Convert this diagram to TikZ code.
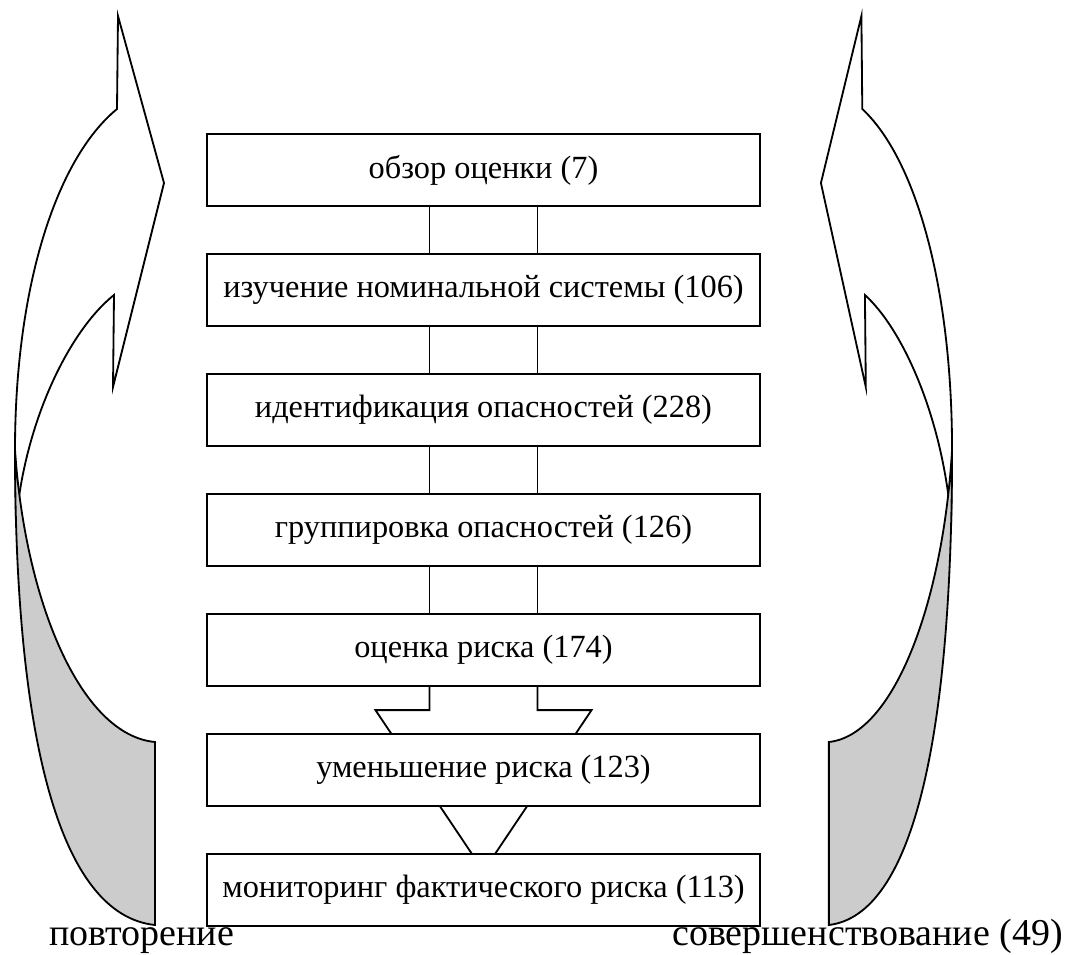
\documentclass[tikz,border=0pt]{standalone}
\usepackage{fontspec}
\setmainfont{Liberation Serif}
\usetikzlibrary{positioning,calc,backgrounds}

\begin{document}
\begin{tikzpicture}
    [
        x=0.025cm, y=-0.025cm,
        stepbox/.style={rectangle, draw=black, fill=white, line width=1.3pt, outer sep=0pt, minimum width=13.825cm, minimum height=1.8cm, font=\fontsize{23}{27}\selectfont},
        link/.style={draw=black, line width=1.3pt},
        bandfront/.style={draw=black, line width=1.3pt, fill=white},
        bandback/.style={draw=black, line width=1.3pt, fill=black!20},
        looplabel/.style={font=\fontsize{27}{32}\selectfont, inner sep=0pt},
    ]

    \useasboundingbox (0,0) rectangle (1067,955);

    %% STEPS
    \node[stepbox] (review) at (483.5,170) {обзор оценки (7)};
    \node[stepbox] (nominal) [below=1.2cm of review] {изучение номинальной системы (106)};
    \node[stepbox] (hazardid) [below=1.2cm of nominal] {идентификация опасностей (228)};
    \node[stepbox] (grouping) [below=1.2cm of hazardid] {группировка опасностей (126)};
    \node[stepbox] (riskest) [below=1.2cm of grouping] {оценка риска (174)};
    \node[stepbox] (riskred) [below=1.2cm of riskest] {уменьшение риска (123)};
    \node[stepbox] (monitor) [below=1.2cm of riskred] {мониторинг фактического риска (113)};

    \foreach \a/\b in {review/nominal, nominal/hazardid, hazardid/grouping, grouping/riskest}
    {
        \draw[link] ([xshift=-1.35cm]\a.south) -- ([xshift=-1.35cm]\b.north);
        \draw[link] ([xshift=1.35cm]\a.south) -- ([xshift=1.35cm]\b.north);
    }

    % block arrow, its head runs on behind the two lower steps
    \begin{scope}[on background layer]
        \draw[link] ([xshift=-1.35cm]riskest.south) -- ++(0,24) -- ++(-54,0)
            -- ($(riskest.south)+(0,185)$)
            -- ([xshift=2.7cm, yshift=-0.6cm]riskest.south)
            -- ([xshift=1.35cm, yshift=-0.6cm]riskest.south)
            -- ([xshift=1.35cm]riskest.south);
    \end{scope}

    %% LEFT LOOP
    \begin{scope}
        \draw[bandfront] (15,450) .. controls (15,290) and (55,160) .. (117,109)
            -- (118,16) -- (164,183) -- (113,387) -- (114,295)
            .. controls (70,330) and (25,420) .. (16,522) -- cycle;
        \draw[bandback] (15,450) .. controls (15,740) and (60,915) .. (155,925)
            -- (155,742) .. controls (80,735) and (25,600) .. (15,450) -- cycle;
    \end{scope}

    %% RIGHT LOOP
    \begin{scope}[xshift=24.125cm, xscale=-0.88]
        \draw[bandfront] (15,450) .. controls (15,290) and (55,160) .. (117,109)
            -- (118,16) -- (164,183) -- (113,387) -- (114,295)
            .. controls (70,330) and (25,420) .. (16,522) -- cycle;
        \draw[bandback] (15,450) .. controls (15,740) and (60,915) .. (155,925)
            -- (155,742) .. controls (80,735) and (25,600) .. (15,450) -- cycle;
    \end{scope}

    \node[looplabel, anchor=base west] (repeat) at (49,945) {повторение};
    \node[looplabel, anchor=base east] (improve) at (1063,945) {совершенствование (49)};

\end{tikzpicture}
\end{document}
